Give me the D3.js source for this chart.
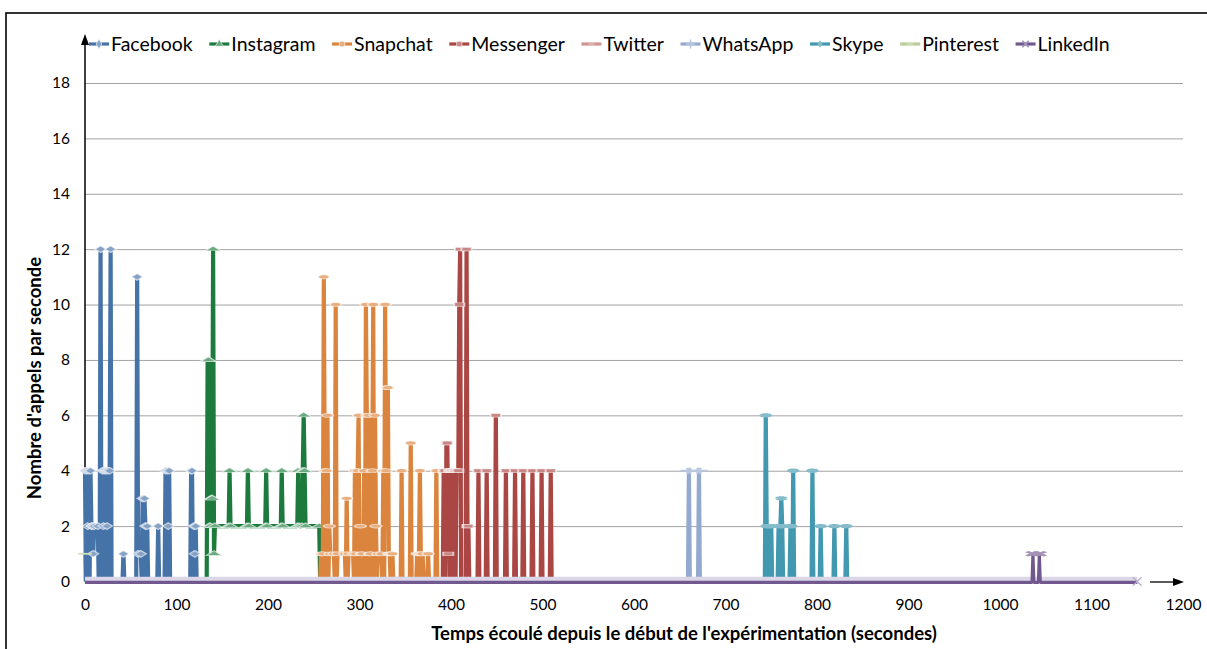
<html>
<head>
  <script src="https://d3js.org/d3.v7.min.js"></script>
  <style>
    body { margin: 0; background: #fff; }
    .ticks .domain, .ticks line { display: none; }
    .gridlines .domain { display: none; }
    .gridlines line { stroke: #a3a3a3; }
    text { font-family: Lato, "Open Sans", sans-serif; fill: #000; }
  </style>
</head>
<body>
<svg id="chart" width="1207" height="649"></svg>
<script>
  // calls per second, one value per second from the start time
  const facebookStart = 0;
  const facebook = [
    4, 0, 4, 2, 4, 0, 4, 2, 2, 1,
    2, 2, 2, 2, 2, 0, 0, 12, 0, 4,
    2, 4, 0, 4, 2, 4, 0, 4, 12, 0,
    0, 0, 0, 0, 0, 0, 0, 0, 0, 0,
    0, 0, 1, 0, 0, 0, 0, 0, 0, 0,
    0, 0, 0, 0, 0, 0, 0, 11, 1, 1,
    1, 1, 0, 3, 0, 3, 2, 0, 2, 0,
    0, 0, 0, 0, 0, 0, 0, 0, 0, 0,
    2, 0, 0, 0, 0, 0, 0, 0, 4, 0,
    4, 2, 4, 0, 0, 0, 0, 0, 0, 0,
    0, 0, 0, 0, 0, 0, 0, 0, 0, 0,
    0, 0, 0, 0, 0, 0, 4, 4, 0, 2,
    1, 2, 0, 0, 0, 0];

  const instagramStart = 130;
  const instagram = [
    0, 0, 0, 0, 8, 8, 2, 2, 3, 3,
    12, 1, 2, 2, 2, 2, 2, 2, 2, 2,
    2, 2, 2, 2, 2, 2, 2, 2, 4, 2,
    2, 2, 2, 2, 2, 2, 2, 2, 2, 2,
    2, 2, 2, 2, 2, 2, 2, 2, 4, 2,
    2, 2, 2, 2, 2, 2, 2, 2, 2, 2,
    2, 2, 2, 2, 2, 2, 2, 2, 4, 2,
    2, 2, 2, 2, 2, 2, 2, 2, 2, 2,
    2, 2, 2, 2, 2, 4, 2, 2, 2, 2,
    2, 2, 2, 2, 2, 2, 2, 2, 2, 2,
    2, 2, 2, 4, 2, 2, 2, 2, 4, 6,
    4, 2, 2, 2, 2, 2, 2, 2, 2, 2,
    2, 2, 2, 2, 2, 2, 2, 0, 0, 0];

  const snapchatStart = 257;
  const snapchat = [
    0, 1, 0, 1, 11, 4, 0, 4, 6, 0,
    2, 1, 1, 1, 1, 1, 0, 10, 0, 1,
    1, 1, 1, 1, 1, 1, 1, 1, 0, 3,
    0, 1, 1, 1, 1, 1, 1, 0, 4, 1,
    0, 4, 6, 0, 2, 1, 1, 0, 4, 0,
    10, 6, 0, 6, 1, 1, 0, 4, 10, 0,
    6, 2, 0, 1, 1, 1, 1, 1, 0, 4,
    0, 10, 4, 7, 7, 1, 1, 0, 1, 1,
    0, 0, 0, 0, 0, 0, 0, 0, 0, 4,
    0, 0, 0, 0, 0, 0, 0, 0, 0, 5,
    0, 0, 0, 0, 0, 0, 1, 0, 1, 4,
    1, 0, 1, 0, 0, 0, 0, 0, 1, 0,
    0, 0, 0, 0, 0, 0, 0, 4, 0, 0,
    0, 0, 0];

  const messengerStart = 389;
  const messenger = [
    0, 0, 0, 4, 4, 0, 5, 5, 1, 4,
    0, 4, 4, 0, 4, 4, 0, 4, 4, 4,
    10, 12, 0, 0, 0, 0, 0, 0, 12, 2,
    2, 0, 0, 0, 0, 0, 0, 0, 0, 0,
    0, 4, 0, 0, 0, 0, 0, 0, 0, 0,
    4, 0, 0, 0, 0, 0, 0, 0, 0, 0,
    6, 0, 0, 0, 0, 0, 0, 0, 0, 0,
    0, 4, 0, 0, 0, 0, 0, 0, 0, 0,
    0, 4, 0, 0, 0, 0, 0, 0, 0, 0,
    4, 0, 0, 0, 0, 0, 0, 0, 0, 0,
    4, 0, 0, 0, 0, 0, 0, 0, 0, 0,
    4, 0, 0, 0, 0, 0, 0, 0, 0, 0,
    4, 0, 0, 0];

  const whatsappStart = 655;
  const whatsapp = [
    0, 0, 0, 0, 0, 4, 0, 0, 0, 0,
    0, 0, 0, 0, 0, 0, 4, 0, 0, 0,
    0];

  const skypeStart = 740;
  const skype = [
    0, 0, 0, 0, 6, 2, 0, 2, 2, 0,
    2, 0, 0, 0, 0, 0, 0, 0, 2, 0,
    2, 3, 2, 0, 0, 0, 0, 0, 0, 0,
    0, 2, 2, 0, 4, 0, 0, 0, 0, 0,
    0, 0, 0, 0, 0, 0, 0, 0, 0, 0,
    0, 0, 0, 0, 0, 4, 0, 0, 0, 0,
    0, 0, 0, 0, 2, 0, 0, 0, 0, 0,
    0, 0, 0, 0, 0, 0, 0, 0, 0, 2,
    0, 0, 0, 0, 0, 0, 0, 0, 0, 0,
    0, 0, 2, 0, 0, 0, 0];

  // [time, value] for the series that are almost always at 0
  const twitter = [[0, 0], [1150, 0]];
  const pinterest = [[0, 1], [1, 0], [1150, 0]];
  const linkedin = [[0, 0], [1035, 0], [1036, 1], [1037, 0], [1042, 0], [1043, 1], [1044, 0], [1150, 0]];

  const xTicks = d3.range(0, 1201, 100);
  const yTicks = d3.range(0, 19, 2);

  const expand = (start, values) => values.map((v, i) => [start + i, v]);

  const series = [
    { name: "Facebook", color: "#4572A7", symbol: d3.symbolDiamond, points: expand(facebookStart, facebook) },
    { name: "Instagram", color: "#1b7a3c", symbol: d3.symbolTriangle, points: expand(instagramStart, instagram) },
    { name: "Snapchat", color: "#DB843D", symbol: d3.symbolCircle, points: expand(snapchatStart, snapchat) },
    { name: "Messenger", color: "#AA4643", symbol: d3.symbolSquare, points: expand(messengerStart, messenger) },
    { name: "Twitter", color: "#D19392", symbol: null, under: true, points: twitter },
    { name: "WhatsApp", color: "#93A9CF", symbol: d3.symbolPlus || d3.symbolCross, stroke: true, points: expand(whatsappStart, whatsapp) },
    { name: "Skype", color: "#4198AF", symbol: d3.symbolAsterisk || d3.symbolStar, stroke: true, points: expand(skypeStart, skype) },
    { name: "Pinterest", color: "#B9CD96", symbol: null, under: true, points: pinterest },
    { name: "LinkedIn", color: "#71588F", symbol: d3.symbolX || d3.symbolCross, stroke: true, points: linkedin, markEnd: true }
  ];

  const svg = d3.select("svg#chart");
  const xScale = d3.scaleLinear().domain([0, 1200]).range([85, 1183]);
  const yScale = d3.scaleLinear().domain([0, 18]).range([581.5, 83]);
  const plotW = xScale(1200) - xScale(0);

  // outer frame
  svg.append("rect")
    .attr("x", 6).attr("y", 13).attr("width", 1220).attr("height", 660)
    .attr("fill", "none").attr("stroke", "#000").attr("stroke-width", 1.6);

  // gridlines
  svg.append("g")
    .attr("class", "gridlines")
    .attr("transform", `translate(${xScale(0)},0)`)
    .call(d3.axisLeft(yScale).tickValues(yTicks.filter(d => d > 0)).tickSize(-plotW).tickFormat(""));

  // y axis with arrow
  const y0 = yScale(0);
  svg.append("line")
    .attr("x1", xScale(0)).attr("x2", xScale(0))
    .attr("y1", y0).attr("y2", 42)
    .attr("stroke", "#000").attr("stroke-width", 1.5);
  svg.append("path")
    .attr("d", `M${xScale(0)},34 L${xScale(0) - 4},45 L${xScale(0) + 4},45 Z`)
    .attr("fill", "#000");

  // tick labels
  svg.append("g")
    .attr("class", "ticks")
    .attr("transform", `translate(${xScale(0)},0)`)
    .call(d3.axisLeft(yScale).tickValues(yTicks).tickSize(0).tickPadding(15))
    .selectAll("text").style("font-size", "15.5px").style("font-family", "Lato");

  svg.append("g")
    .attr("class", "ticks")
    .attr("transform", `translate(0,${y0})`)
    .call(d3.axisBottom(xScale).tickValues(xTicks).tickSize(0).tickPadding(17).tickFormat(d3.format("d")))
    .selectAll("text").style("font-size", "15.5px").style("font-family", "Lato");

  // series
  const line = d3.line().x(d => xScale(d[0])).y(d => yScale(d[1]));
  const tint = c => d3.interpolateRgb(c, "#ffffff")(0.35);
  const lineLayer = svg.append("g");
  const underLayer = lineLayer.append("g");

  series.forEach(s => {
    const layer = s.under ? underLayer : lineLayer;
    if (s.name === "LinkedIn") {
      // pale band of markers along zero
      layer.append("line")
        .attr("x1", xScale(0)).attr("x2", xScale(1150))
        .attr("y1", y0 - 2.5).attr("y2", y0 - 2.5)
        .attr("stroke", "#dcd7e8").attr("stroke-width", 4.5);
    }
    layer.append("path")
      .datum(s.points)
      .attr("d", line)
      .attr("fill", "none")
      .attr("stroke", s.color)
      .attr("stroke-width", s.name === "LinkedIn" ? 3.2 : 4.2)
      .attr("stroke-linejoin", "bevel")
      .attr("transform", s.name === "LinkedIn" ? "translate(0,0.8)" : null);

    const marked = s.points.filter((d, i, a) => {
      const prev = i > 0 ? a[i - 1][1] : null;
      const next = i < a.length - 1 ? a[i + 1][1] : null;
      return d[1] > 0 && (prev !== d[1] || next !== d[1]);
    });
    const sym = s.symbol ? d3.symbol(s.symbol, 36)() : "M-4,0H4";
    const mk = lineLayer.append("g");
    mk.selectAll("path")
      .data(marked)
      .join("path")
      .attr("d", sym)
      .attr("transform", d => `translate(${xScale(d[0])},${yScale(d[1])}) scale(1.7,0.6)`)
      .attr("fill", s.stroke || !s.symbol ? "none" : tint(s.color))
      .attr("stroke", s.stroke || !s.symbol ? tint(s.color) : "#ffffff")
      .attr("stroke-opacity", s.stroke || !s.symbol ? 1 : 0.6)
      .attr("stroke-width", s.stroke || !s.symbol ? 3 : 1.2);
    if (s.markEnd) {
      const last = s.points[s.points.length - 1];
      lineLayer.append("path")
        .attr("d", d3.symbol(s.symbol, 50)())
        .attr("transform", `translate(${xScale(last[0])},${yScale(last[1])})`)
        .attr("fill", "none")
        .attr("stroke", "#b9aed0")
        .attr("stroke-width", 1.3);
    }
  });

  // x arrow
  svg.append("line")
    .attr("x1", 1150).attr("x2", 1176).attr("y1", y0 + 0.5).attr("y2", y0 + 0.5)
    .attr("stroke", "#000").attr("stroke-width", 1.3);
  svg.append("path")
    .attr("d", `M1184,${y0 + 0.5} L1173,${y0 - 3.5} L1173,${y0 + 4.5} Z`)
    .attr("fill", "#000");

  // axis titles
  svg.append("text")
    .attr("x", 684).attr("y", 640)
    .attr("text-anchor", "middle")
    .style("font-size", "18.5px").style("font-weight", "bold")
    .text("Temps écoulé depuis le début de l'expérimentation (secondes)");

  svg.append("text")
    .attr("transform", "rotate(-90)")
    .attr("x", -378).attr("y", 41)
    .attr("text-anchor", "middle")
    .style("font-size", "18.5px").style("font-weight", "bold")
    .text("Nombre d'appels par seconde");

  // legend
  const legend = svg.append("g");
  let lx = 89;
  series.forEach(s => {
    const g = legend.append("g").attr("transform", `translate(${lx},44)`);
    g.append("line").attr("x1", 0).attr("x2", 20)
      .attr("stroke", s.color).attr("stroke-width", 3.2);
    const sym = s.symbol ? d3.symbol(s.symbol, 28)() : "M-3,0H3";
    g.append("path")
      .attr("d", sym)
      .attr("transform", "translate(10,0)")
      .attr("fill", s.stroke || !s.symbol ? "none" : tint(s.color))
      .attr("stroke", s.stroke || !s.symbol ? tint(s.color) : "#fff")
      .attr("stroke-width", s.stroke || !s.symbol ? 1.6 : 0.6);
    const t = g.append("text")
      .attr("x", 22).attr("y", 0).attr("dy", "0.36em")
      .style("font-size", "19.5px")
      .text(s.name);
    lx += 22 + t.node().getComputedTextLength() + 16.6;
  });
</script>
</body>
</html>
